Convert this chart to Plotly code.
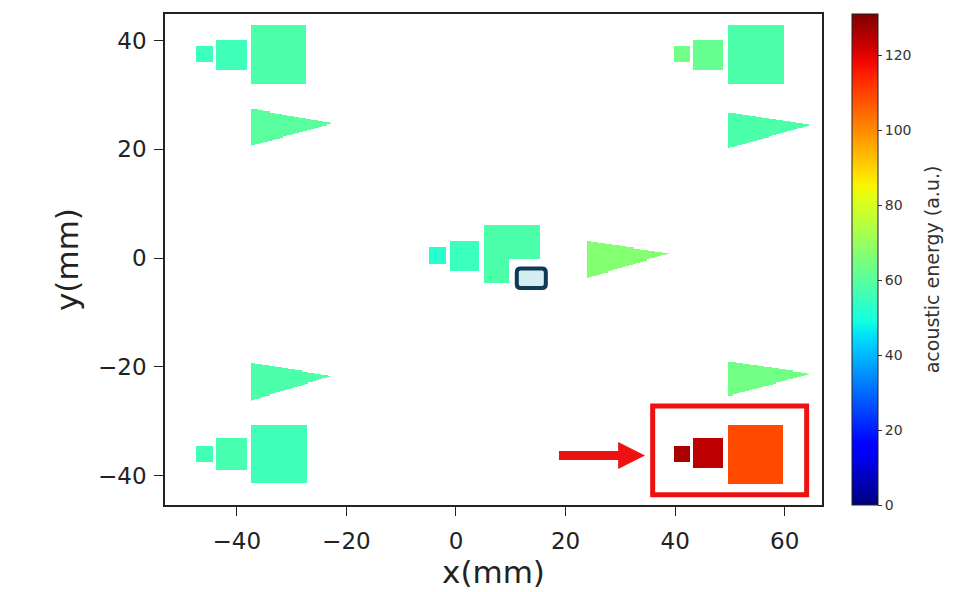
import numpy as np
import plotly.graph_objects as go

# ---------------- data (mm, acoustic energy a.u.) ----------------
# square / rectangular defect regions
sq_x0 = [-47.4, -43.7, -37.4, 39.8, 43.3, 49.7, -4.9, -1.1, 5.1, -47.4, -43.7, -37.4, 39.8, 43.3, 49.6]
sq_x1 = [-44.3, -38.2, -27.3, 42.7, 48.7, 59.8, -1.8, 4.3, 15.3, -44.3, -38.2, -27.2, 42.7, 48.7, 59.7]
sq_y0 = [36.1, 34.7, 32.1, 36.1, 34.7, 32.1, -0.9, -2.4, -4.5, -37.3, -38.7, -41.2, -37.4, -38.6, -41.3]
sq_y1 = [39.1, 40.3, 42.9, 39.1, 40.2, 42.9, 2.0, 3.2, 6.3, -34.4, -33.0, -30.5, -34.3, -32.9, -30.5]
sq_val = [55, 56, 58, 64, 62, 58, 52, 55, 58, 56, 57, 56, 126, 124, 109]

# empty (not scanned) part of the central large square
cut_x0, cut_x1, cut_y0, cut_y1 = [9.6], [15.3], [-4.5], [-0.2]

# triangular defect regions (left edge x0, tip x1)
tri_x0 = [-37.3, 49.7, 23.9, -37.3, 49.7]
tri_x1 = [-22.5, 64.5, 38.8, -22.7, 64.7]
tri_ytop = [27.5, 26.9, 3.2, -19.2, -18.9]
tri_ybot = [20.7, 20.2, -3.6, -26.1, -25.3]
tri_ytip = [24.8, 24.5, 0.9, -21.6, -21.2]
tri_val = [60, 58, 67, 58, 64]

# annotation geometry
box_red = dict(x0=35.9, x1=64.0, y0=-43.5, y1=-27.2)
box_blue = dict(x0=11.1, x1=16.4, y0=-5.5, y1=-1.9)
arrow = dict(xs=18.8, xh=29.6, xt=34.5, y=-36.3, hw=0.82, hh=2.5)

x_ticks = [-40, -20, 0, 20, 40, 60]
y_ticks = [-40, -20, 0, 20, 40]
cb_ticks = [0, 20, 40, 60, 80, 100, 120]
cb_title = "acoustic energy (a.u.)"

# ---------------- build map ----------------
res = 0.2
gx = np.arange(-53.0, 67.0, res) + res / 2
gy = np.arange(-45.4, 45.0, res) + res / 2
X, Y = np.meshgrid(gx, gy)
Z = np.full(X.shape, np.nan)
for x0, x1, y0, y1, v in zip(sq_x0, sq_x1, sq_y0, sq_y1, sq_val):
    Z[(X >= x0) & (X <= x1) & (Y >= y0) & (Y <= y1)] = v
for x0, x1, y0, y1 in zip(cut_x0, cut_x1, cut_y0, cut_y1):
    Z[(X >= x0) & (X <= x1) & (Y >= y0) & (Y <= y1)] = np.nan
for x0, x1, yt, yb, yp, v in zip(tri_x0, tri_x1, tri_ytop, tri_ybot, tri_ytip, tri_val):
    f = (X - x0) / (x1 - x0)
    top = yt + (yp - yt) * f
    bot = yb + (yp - yb) * f
    Z[(f >= 0) & (f <= 1) & (Y <= top) & (Y >= bot)] = v

# matplotlib-like jet colorscale
def _seg(pts, t):
    xs, ys = zip(*pts)
    return np.interp(t, xs, ys)
R = [(0, 0), (0.35, 0), (0.66, 1), (0.89, 1), (1, 0.5)]
G = [(0, 0), (0.125, 0), (0.375, 1), (0.64, 1), (0.91, 0), (1, 0)]
B = [(0, 0.5), (0.11, 1), (0.34, 1), (0.65, 0), (1, 0)]
ts = np.linspace(0, 1, 41)
jet = [[float(t), "rgb(%d,%d,%d)" % (round(255 * _seg(R, t)), round(255 * _seg(G, t)), round(255 * _seg(B, t)))] for t in ts]

FONT = "DejaVu Sans"
fig = go.Figure()
fig.add_trace(go.Heatmap(
    x=gx, y=gy, z=Z, colorscale=jet, zmin=0, zmax=131, hoverinfo="skip",
    colorbar=dict(
        x=1.0457, xanchor="left", xpad=0, y=0.5, yanchor="middle", ypad=0,
        len=1.0, lenmode="fraction", thickness=26,
        outlinewidth=1, outlinecolor="#222",
        tickvals=cb_ticks, ticks="outside", ticklen=4, tickcolor="#333",
        tickfont=dict(family=FONT, size=14, color="#333"),
    ),
))

# colorbar title
fig.add_annotation(text=cb_title, xref="paper", yref="paper", x=1.1674, y=0.48,
                   textangle=-90, showarrow=False, xanchor="center", yanchor="middle",
                   font=dict(family=FONT, size=19, color="#333"))

# red box
fig.add_shape(type="rect", xref="x", yref="y", line=dict(color="#ee1111", width=5),
              fillcolor="rgba(0,0,0,0)", **box_red)
# dark rounded box
b = box_blue
r = 0.7
path = (f"M {b['x0']+r},{b['y0']} L {b['x1']-r},{b['y0']} Q {b['x1']},{b['y0']} {b['x1']},{b['y0']+r} "
        f"L {b['x1']},{b['y1']-r} Q {b['x1']},{b['y1']} {b['x1']-r},{b['y1']} "
        f"L {b['x0']+r},{b['y1']} Q {b['x0']},{b['y1']} {b['x0']},{b['y1']-r} "
        f"L {b['x0']},{b['y0']+r} Q {b['x0']},{b['y0']} {b['x0']+r},{b['y0']} Z")
fig.add_shape(type="path", path=path, line=dict(color="#103a55", width=4), fillcolor="#d4eef2")
# red arrow
a = arrow
apath = (f"M {a['xs']},{a['y']-a['hw']} L {a['xh']},{a['y']-a['hw']} L {a['xh']},{a['y']-a['hh']} "
         f"L {a['xt']},{a['y']} L {a['xh']},{a['y']+a['hh']} L {a['xh']},{a['y']+a['hw']} "
         f"L {a['xs']},{a['y']+a['hw']} Z")
fig.add_shape(type="path", path=apath, line=dict(color="#ee1111", width=0), fillcolor="#ee1111")

axis_common = dict(showline=True, linecolor="#222", linewidth=1.5, mirror=True,
                   ticks="outside", ticklen=9, tickcolor="#222", showgrid=False, zeroline=False,
                   tickfont=dict(family=FONT, size=23, color="#222"))
fig.update_xaxes(range=[-53.1, 66.8], tickvals=x_ticks, ticklabelstandoff=6,
                 title=dict(text="x(mm)", font=dict(family=FONT, size=31, color="#222"), standoff=4),
                 **axis_common)
fig.update_yaxes(range=[-45.4, 44.9], tickvals=y_ticks, ticklabelstandoff=3,
                 title=dict(text="y(mm)", font=dict(family=FONT, size=31, color="#222"), standoff=10),
                 **axis_common)
# page body has an 8px margin, so margins are shifted to land the plot area where it belongs
fig.update_layout(width=965, height=592, margin=dict(l=157, r=151, t=4, b=95),
                  paper_bgcolor="white", plot_bgcolor="white", showlegend=False,
                  font=dict(family=FONT))
fig.write_html("out.html")
